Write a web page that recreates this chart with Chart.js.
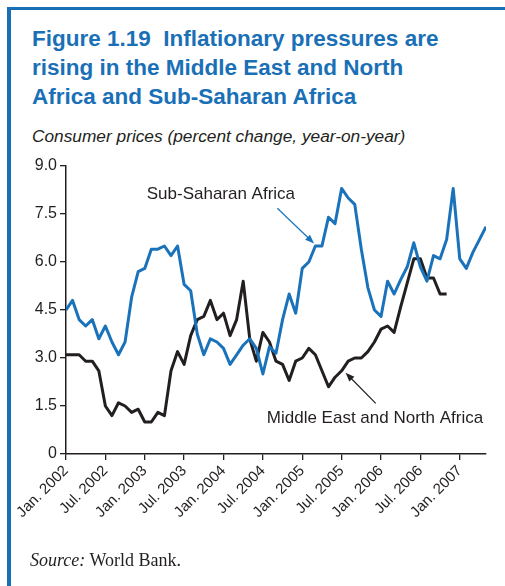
<!DOCTYPE html>
<html>
<head>
<meta charset="utf-8">
<script src="https://cdn.jsdelivr.net/npm/chart.js@4.4.1/dist/chart.umd.min.js"></script>
<style>
    body { margin: 0; background: #fff; width: 505px; height: 586px; overflow: hidden; position: relative; font-family: 'Liberation Sans', Arial, sans-serif; }
    .marco { position: absolute; left: 7px; top: 7px; width: 500px; height: 590px; border-left: 4px solid #1a70b6; border-top: 3px solid #1a70b6; }
    .titulo { position: absolute; left: 32px; top: 24px; font-size: 22.5px; line-height: 29px; font-weight: bold; color: #1a70b6; white-space: nowrap; }
    .subtitulo { position: absolute; left: 32px; top: 128px; font-size: 17.3px; line-height: 17px; font-style: italic; color: #231f20; white-space: nowrap; }
    .fuente { position: absolute; left: 30px; top: 552px; font-family: 'Liberation Serif', 'Times New Roman', serif; font-size: 18px; line-height: 17.5px; color: #231f20; }
    #contenedor { position: absolute; left: 0; top: 150px; width: 505px; height: 436px; }
</style>
</head>
<body>
<div class="marco"></div>
<div class="titulo">Figure 1.19&nbsp; Inflationary pressures are<br>rising in the Middle East and North<br>Africa and Sub-Saharan Africa</div>
<div class="subtitulo">Consumer prices (percent change, year-on-year)</div>
<div id="contenedor"><canvas id="grafico" width="505" height="436"></canvas></div>
<div class="fuente"><i>Source:</i> World Bank.</div>
<script>
// Datos: meses desde enero 2002 (0 = Jan. 2002)
const subSaharan = [4.5, 4.8, 4.2, 4.0, 4.2, 3.6, 4.0, 3.5, 3.1, 3.5, 4.9, 5.7, 5.8, 6.4, 6.4, 6.5,
    6.2, 6.5, 5.3, 5.1, 3.75, 3.1, 3.6, 3.5, 3.3, 2.8, 3.1, 3.4, 3.6, 3.3, 2.5, 3.35,
    3.15, 4.2, 5.0, 4.4, 5.8, 6.0, 6.5, 6.5, 7.4, 7.2, 8.3, 8.0, 7.8, 6.4, 5.2, 4.5,
    4.3, 5.4, 5.0, 5.45, 5.85, 6.6, 5.85, 5.4, 6.2, 6.1, 6.7, 8.3, 6.1, 5.8, 6.3, 6.7, 7.1];
const menaInflacion = [3.1, 3.1, 3.1, 2.9, 2.9, 2.6, 1.5, 1.2, 1.6, 1.5, 1.3, 1.4, 1.0, 1.0, 1.3, 1.2,
    2.6, 3.2, 2.8, 3.7, 4.2, 4.3, 4.8, 4.2, 4.4, 3.7, 4.2, 5.4, 3.6, 2.9, 3.8, 3.5,
    2.9, 2.8, 2.3, 2.9, 3.0, 3.3, 3.1, 2.6, 2.1, 2.4, 2.6, 2.9, 3.0, 3.0, 3.2, 3.5,
    3.9, 4.0, 3.8, 4.6, 5.35, 6.1, 6.1, 5.5, 5.5, 5.0, 5.0];
const xTickPos = [0, 6, 12, 18, 24, 30, 36, 42, 48, 54, 60];
const xTickLabels = ['Jan. 2002', 'Jul. 2002', 'Jan. 2003', 'Jul. 2003', 'Jan. 2004', 'Jul. 2004',
    'Jan. 2005', 'Jul. 2005', 'Jan. 2006', 'Jul. 2006', 'Jan. 2007'];
const yTickPos = [0, 1.5, 3, 4.5, 6, 7.5, 9];
const yTickLabels = ['0', '1.5', '3.0', '4.5', '6.0', '7.5', '9.0'];

const AZUL = '#1a73ba';
const NEGRO = '#231f20';
const FUENTE = "'Liberation Sans', Arial, sans-serif";

const aPuntos = serie => serie.map((v, i) => ({ x: i, y: v }));

// Etiquetas de las series con flecha
const notas = [
    { texto: 'Sub-Saharan Africa', x: 12.3, y: 7.97, color: NEGRO, flecha: [32.2, 7.68, 37.8, 6.58], colorFlecha: AZUL },
    { texto: 'Middle East and North Africa', x: 30.6, y: 0.97, color: NEGRO, flecha: [47.2, 1.58, 42.6, 2.54], colorFlecha: NEGRO }
];

const pluginNotas = {
    id: 'notas',
    afterDatasetsDraw(chart) {
        const { ctx, scales: { x, y } } = chart;
        ctx.save();
        notas.forEach(n => {
            ctx.font = `17px ${FUENTE}`;
            ctx.fillStyle = n.color;
            ctx.textAlign = 'left';
            ctx.textBaseline = 'alphabetic';
            ctx.fillText(n.texto, x.getPixelForValue(n.x), y.getPixelForValue(n.y));

            const x1 = x.getPixelForValue(n.flecha[0]), y1 = y.getPixelForValue(n.flecha[1]);
            const x2 = x.getPixelForValue(n.flecha[2]), y2 = y.getPixelForValue(n.flecha[3]);
            const ang = Math.atan2(y2 - y1, x2 - x1);
            ctx.strokeStyle = n.colorFlecha;
            ctx.fillStyle = n.colorFlecha;
            ctx.lineWidth = 1.2;
            ctx.beginPath();
            ctx.moveTo(x1, y1);
            ctx.lineTo(x2 - 6 * Math.cos(ang), y2 - 6 * Math.sin(ang));
            ctx.stroke();
            ctx.beginPath();
            ctx.moveTo(x2, y2);
            ctx.lineTo(x2 - 9 * Math.cos(ang) + 3.5 * Math.sin(ang), y2 - 9 * Math.sin(ang) - 3.5 * Math.cos(ang));
            ctx.lineTo(x2 - 9 * Math.cos(ang) - 3.5 * Math.sin(ang), y2 - 9 * Math.sin(ang) + 3.5 * Math.cos(ang));
            ctx.closePath();
            ctx.fill();
        });
        ctx.restore();
    }
};

const ctx = document.getElementById('grafico').getContext('2d');
new Chart(ctx, {
    type: 'line',
    data: {
        datasets: [
            { label: 'Sub-Saharan Africa', data: aPuntos(subSaharan), borderColor: AZUL, borderWidth: 3, borderJoinStyle: 'round', pointRadius: 0, tension: 0 },
            { label: 'Middle East and North Africa', data: aPuntos(menaInflacion), borderColor: NEGRO, borderWidth: 3, borderJoinStyle: 'round', pointRadius: 0, tension: 0 }
        ]
    },
    options: {
        responsive: false,
        devicePixelRatio: 1,
        animation: false,
        layout: { padding: { left: 16, top: 16, right: 19, bottom: 52 } },
        plugins: { legend: { display: false }, tooltip: { enabled: false } },
        scales: {
            x: {
                type: 'linear',
                min: 0,
                max: 64,
                afterBuildTicks: s => { s.ticks = xTickPos.map(v => ({ value: v })); },
                afterFit: s => { s.height = 80; },
                ticks: {
                    autoSkip: false, maxRotation: 45, minRotation: 45, padding: 2,
                    color: NEGRO, font: { family: FUENTE, size: 15 },
                    callback: (v, i) => xTickLabels[i]
                },
                grid: { drawOnChartArea: false, drawTicks: true, tickLength: 6, color: NEGRO, lineWidth: 1.3 },
                border: { color: NEGRO, width: 1.5 }
            },
            y: {
                min: 0,
                max: 9,
                afterBuildTicks: s => { s.ticks = yTickPos.map(v => ({ value: v })); },
                afterFit: s => { s.width = 50; },
                ticks: {
                    padding: 3, color: NEGRO, font: { family: FUENTE, size: 16 },
                    callback: (v, i) => yTickLabels[i]
                },
                grid: { drawOnChartArea: false, drawTicks: true, tickLength: 6, color: NEGRO, lineWidth: 1.3 },
                border: { color: NEGRO, width: 1.5 }
            }
        }
    },
    plugins: [pluginNotas]
});
</script>
</body>
</html>
